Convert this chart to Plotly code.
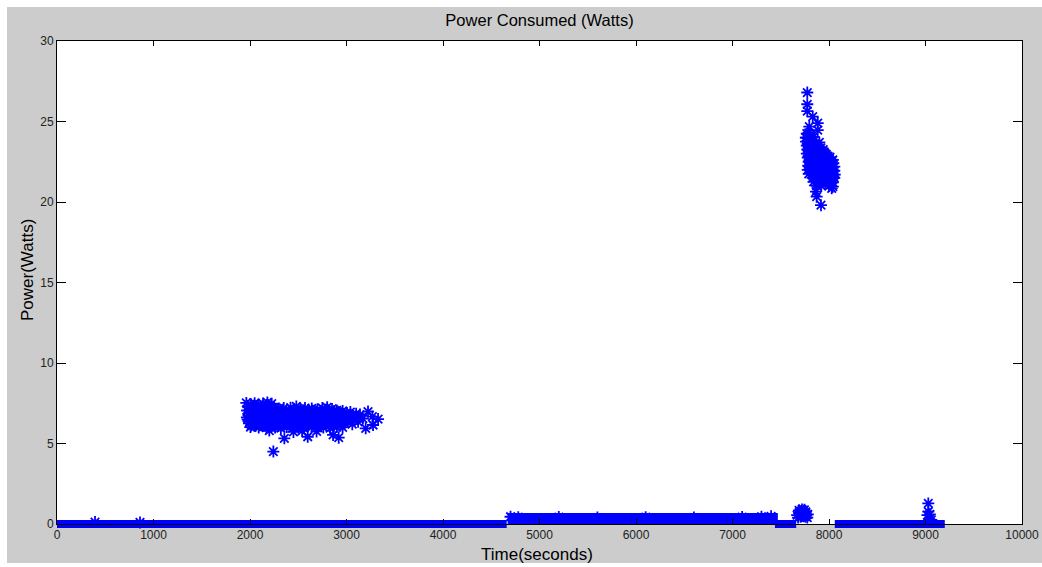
import plotly.graph_objects as go

# ---------------- data ----------------
x_ticks = [0, 1000, 2000, 3000, 4000, 5000, 6000, 7000, 8000, 9000, 10000]
y_ticks = [0, 5, 10, 15, 20, 25, 30]

# dense runs of samples that merge into solid bands (start time, end time, level)
band_x0 = [0, 4670, 7440, 8060]
band_x1 = [4660, 7470, 7660, 9200]
band_y = [0.0, 0.31, 0.0, 0.0]

# cluster around 2000-3300 s
cluster1 = [
    [1962, 7.52], [2005, 7.45], [2048, 7.5], [2090, 7.42], [2135, 7.48], [2180, 7.55], [2225, 7.47],
    [1980, 7.3], [2025, 7.28], [2070, 7.33], [2115, 7.25], [2160, 7.3], [2205, 7.32], [2250, 7.22],
    [2300, 7.18], [2350, 7.2], [2420, 7.22], [2480, 7.3], [2520, 7.15], [2570, 7.2], [2640, 7.18],
    [2700, 7.12], [2750, 7.2], [2800, 7.25], [2850, 7.15], [2900, 7.05],
    [1970, 7.05], [2015, 7.0], [2060, 6.98], [2105, 7.05], [2150, 7.0], [2195, 6.95], [2240, 7.02],
    [2285, 6.98], [2330, 7.05], [2375, 6.95], [2420, 7.0], [2465, 7.05], [2510, 6.97], [2555, 7.02],
    [2600, 6.96], [2645, 7.03], [2690, 6.98], [2735, 7.0], [2780, 7.05], [2825, 6.95], [2870, 7.0],
    [2915, 6.97], [2960, 7.02], [3005, 6.9],
    [1992, 6.88], [2038, 6.85], [2082, 6.9], [2128, 6.86], [2172, 6.88], [2218, 6.84], [2262, 6.9],
    [2308, 6.86], [2352, 6.88], [2398, 6.85], [2442, 6.9], [2488, 6.84], [2532, 6.88], [2578, 6.86],
    [2622, 6.9], [2668, 6.85], [2712, 6.88], [2758, 6.84], [2802, 6.9], [2848, 6.86], [2892, 6.88],
    [2938, 6.85], [2982, 6.82],
    [1985, 6.75], [2030, 6.72], [2075, 6.78], [2120, 6.7], [2165, 6.76], [2210, 6.73], [2255, 6.78],
    [2300, 6.7], [2345, 6.75], [2390, 6.72], [2435, 6.78], [2480, 6.7], [2525, 6.76], [2570, 6.73],
    [2615, 6.78], [2660, 6.7], [2705, 6.75], [2750, 6.72], [2795, 6.78], [2840, 6.7], [2885, 6.76],
    [2930, 6.73], [2975, 6.7], [3040, 6.75], [3090, 6.65],
    [1968, 6.62], [2012, 6.6], [2058, 6.64], [2102, 6.58], [2148, 6.62], [2192, 6.6], [2238, 6.64],
    [2282, 6.58], [2328, 6.62], [2372, 6.6], [2418, 6.64], [2462, 6.58], [2508, 6.62], [2552, 6.6],
    [2598, 6.64], [2642, 6.58], [2688, 6.62], [2732, 6.6], [2778, 6.64], [2822, 6.58], [2868, 6.62],
    [2912, 6.6], [2958, 6.62], [3002, 6.6],
    [1975, 6.5], [2020, 6.47], [2065, 6.53], [2110, 6.45], [2155, 6.5], [2200, 6.48], [2245, 6.52],
    [2290, 6.45], [2335, 6.5], [2380, 6.47], [2425, 6.53], [2470, 6.45], [2515, 6.5], [2560, 6.48],
    [2605, 6.52], [2650, 6.45], [2695, 6.5], [2740, 6.47], [2785, 6.53], [2830, 6.45], [2875, 6.5],
    [2920, 6.48], [2965, 6.52], [3010, 6.45], [3060, 6.55],
    [1998, 6.37], [2042, 6.35], [2088, 6.4], [2132, 6.36], [2178, 6.38], [2222, 6.35], [2268, 6.4],
    [2312, 6.36], [2358, 6.38], [2402, 6.35], [2448, 6.4], [2492, 6.36], [2538, 6.38], [2582, 6.35],
    [2628, 6.4], [2672, 6.36], [2718, 6.38], [2762, 6.35], [2808, 6.4], [2852, 6.36], [2898, 6.38],
    [2942, 6.35], [2988, 6.38],
    [1990, 6.25], [2035, 6.22], [2080, 6.28], [2125, 6.2], [2170, 6.25], [2215, 6.23], [2260, 6.27],
    [2305, 6.2], [2350, 6.25], [2395, 6.22], [2440, 6.28], [2485, 6.2], [2530, 6.25], [2575, 6.23],
    [2620, 6.27], [2665, 6.2], [2710, 6.25], [2755, 6.22], [2800, 6.28], [2845, 6.2], [2890, 6.25],
    [2935, 6.22], [2980, 6.25],
    [2012, 6.12], [2058, 6.1], [2102, 6.14], [2148, 6.1], [2238, 6.12], [2282, 6.1], [2328, 6.14],
    [2418, 6.1], [2462, 6.12], [2552, 6.1], [2598, 6.14], [2688, 6.1], [2732, 6.12], [2822, 6.1],
    [2868, 6.12],
    [2005, 6.02], [2090, 6.0], [2170, 5.98], [2260, 6.0], [2320, 5.95], [2380, 6.02], [2440, 5.97],
    [2500, 6.0], [2560, 5.95], [2640, 6.02], [2700, 5.98], [2760, 6.0], [2830, 5.95], [2900, 6.02],
    [2960, 6.0],
    [2242, 4.5], [2356, 5.32], [2598, 5.42], [2450, 5.72], [2690, 5.75], [2861, 5.53], [2919, 5.36],
    [2200, 5.8], [2540, 5.78],
    [3040, 6.95], [3100, 6.85], [3140, 6.8], [3120, 6.35], [3170, 6.55], [3223, 6.98], [3268, 6.67],
    [3327, 6.52], [3199, 5.94], [3275, 6.15], [3060, 6.2],
]

# cluster around 7750-8060 s
cluster2 = [
    [7775, 26.8], [7775, 26.07], [7775, 25.65], [7831, 25.3], [7883, 24.9], [7883, 24.47],
    [7796, 24.68], [7790, 24.3], [7765, 24.0],
    [7770, 24.25], [7810, 24.2],
    [7760, 24.0], [7800, 23.95], [7840, 24.05],
    [7762, 23.75], [7800, 23.7], [7840, 23.78], [7900, 23.7],
    [7780, 23.62], [7820, 23.6], [7860, 23.64],
    [7770, 23.5], [7810, 23.48], [7850, 23.52], [7890, 23.45],
    [7790, 23.37], [7830, 23.35], [7870, 23.4], [7915, 23.36],
    [7775, 23.25], [7815, 23.22], [7855, 23.28], [7895, 23.2], [7940, 23.25],
    [7790, 23.12], [7830, 23.1], [7870, 23.14], [7910, 23.1], [7950, 23.12],
    [7770, 23.0], [7810, 22.98], [7850, 23.02], [7890, 22.95], [7930, 23.0], [7970, 22.97],
    [7790, 22.87], [7830, 22.85], [7870, 22.9], [7910, 22.86], [7950, 22.88], [7990, 22.85],
    [7780, 22.75], [7820, 22.72], [7860, 22.78], [7900, 22.7], [7940, 22.75], [7980, 22.73], [8010, 22.78],
    [7800, 22.62], [7840, 22.6], [7880, 22.64], [7920, 22.6], [7960, 22.62], [8000, 22.6], [8040, 22.62],
    [7790, 22.5], [7830, 22.48], [7870, 22.52], [7910, 22.45], [7950, 22.5], [7990, 22.48], [8030, 22.52],
    [7805, 22.37], [7845, 22.35], [7885, 22.4], [7925, 22.36], [7965, 22.38], [8005, 22.35], [8045, 22.4],
    [7785, 22.25], [7825, 22.22], [7865, 22.28], [7905, 22.2], [7945, 22.25], [7985, 22.23], [8025, 22.27], [8055, 22.2],
    [7800, 22.12], [7840, 22.1], [7880, 22.14], [7920, 22.1], [7960, 22.12], [8000, 22.1], [8040, 22.14],
    [7780, 22.0], [7820, 21.98], [7860, 22.02], [7900, 21.95], [7940, 22.0], [7980, 21.97], [8020, 22.02], [8055, 21.95],
    [7810, 21.87], [7850, 21.85], [7890, 21.9], [7930, 21.86], [7970, 21.88], [8010, 21.85], [8045, 21.9],
    [7790, 21.75], [7830, 21.72], [7870, 21.78], [7910, 21.7], [7950, 21.75], [7990, 21.72], [8030, 21.78], [8060, 21.7],
    [7850, 21.62], [7890, 21.6], [7930, 21.64], [7970, 21.6], [8010, 21.62], [8045, 21.6],
    [7830, 21.5], [7870, 21.48], [7910, 21.52], [7950, 21.45], [7990, 21.5], [8030, 21.48], [8055, 21.5],
    [7860, 21.37], [7900, 21.35], [7980, 21.36], [8020, 21.38],
    [7840, 21.25], [7880, 21.22], [7920, 21.28], [7960, 21.2], [8000, 21.25], [8040, 21.22],
    [7872, 21.0], [7920, 21.0], [8000, 21.0], [8040, 20.95], [8028, 20.85],
    [7865, 20.64], [7872, 20.33], [7917, 19.8],
]

# small bumps near the baseline
small_points = [
    [394, 0.12], [860, 0.1],
    [4700, 0.45], [4780, 0.42], [5200, 0.43], [5600, 0.4], [6100, 0.42], [6600, 0.4],
    [7100, 0.43], [7300, 0.45], [7400, 0.48],
    [7670, 0.55], [7690, 0.7], [7710, 0.78], [7735, 0.8], [7760, 0.75], [7780, 0.6],
    [7680, 0.4], [7705, 0.45], [7730, 0.5], [7755, 0.45], [7775, 0.4], [7700, 0.6],
    [7725, 0.65], [7750, 0.6], [7690, 0.85], [7720, 0.9], [7745, 0.88], [7765, 0.55],
    [9029, 1.28], [9029, 0.77], [9045, 0.6], [9020, 0.55], [9040, 0.3], [9060, 0.25],
]

# ---------------- layout geometry (pixels) ----------------
W, H = 1042, 567
L, R, T, B = 57, 1022, 41, 524
PAD = 12
BLUE = "#0000ff"
FONT = "Liberation Sans, Arial, sans-serif"
band_w = [8, 12, 8, 8]

ux = 10000 / (R - L)
uy = 30 / (B - T)

fig = go.Figure()

for x0, x1, y, w in zip(band_x0, band_x1, band_y, band_w):
    fig.add_trace(go.Scatter(x=[x0, x1], y=[y, y], mode="lines",
                             line=dict(color=BLUE, width=w),
                             xaxis="x", yaxis="y", hoverinfo="skip", showlegend=False))

pts = cluster1 + cluster2 + small_points
fig.add_trace(go.Scatter(
    x=[p[0] for p in pts], y=[p[1] for p in pts], mode="markers",
    marker=dict(symbol="asterisk-open", size=10, color=BLUE, line=dict(width=1.8, color=BLUE)),
    xaxis="x", yaxis="y", cliponaxis=False, showlegend=False, hoverinfo="skip"))

# empty trace to realise the framed axes
fig.add_trace(go.Scatter(x=[], y=[], xaxis="x2", yaxis="y2", showlegend=False))

axis_common = dict(showgrid=False, zeroline=False, showline=True, linecolor="black", linewidth=1,
                   ticks="inside", mirror="ticks", tickcolor="black", tickwidth=1,
                   tickfont=dict(family=FONT, size=12, color="#222222"))

fig.update_layout(
    width=W, height=H, autosize=False, template="none",
    margin=dict(l=0, r=0, t=0, b=0, pad=0),
    paper_bgcolor="white", plot_bgcolor="rgba(0,0,0,0)",
    showlegend=False,
    xaxis=dict(domain=[(L - PAD) / W, (R + PAD) / W], range=[-PAD * ux, 10000 + PAD * ux],
               visible=False, anchor="y", fixedrange=True),
    yaxis=dict(domain=[1 - (B + PAD) / H, 1 - (T - PAD) / H], range=[-PAD * uy, 30 + PAD * uy],
               visible=False, anchor="x", fixedrange=True),
    xaxis2=dict(domain=[L / W, R / W], range=[0, 10000], anchor="y2", tickvals=x_ticks,
                ticktext=[str(v) for v in x_ticks], ticklen=5, **axis_common),
    yaxis2=dict(domain=[1 - B / H, 1 - T / H], range=[0, 30], anchor="x2", tickvals=y_ticks,
                ticktext=[str(v) for v in y_ticks], ticklen=9, **axis_common),
    title=dict(text="Power Consumed (Watts)", x=(L + R) / 2 / W, xanchor="center",
               y=1 - 20 / H, yanchor="middle", font=dict(family=FONT, size=16.5, color="black")),
    shapes=[
        dict(type="rect", xref="paper", yref="paper", x0=7 / W, x1=1.01, y0=(H - 563) / H, y1=(H - 7) / H,
             fillcolor="#cccccc", line=dict(width=0), layer="below"),
        dict(type="rect", xref="x2 domain", yref="y2 domain", x0=0, x1=1, y0=0, y1=1,
             fillcolor="white", line=dict(width=0), layer="below"),
    ],
    annotations=[
        dict(text="Time(seconds)", xref="paper", yref="paper", x=537 / W, y=1 - 554 / H,
             xanchor="center", yanchor="middle", showarrow=False,
             font=dict(family=FONT, size=17, color="black")),
        dict(text="Power(Watts)", xref="paper", yref="paper", x=27 / W, y=1 - 270 / H,
             xanchor="center", yanchor="middle", showarrow=False, textangle=-90,
             font=dict(family=FONT, size=17, color="black")),
    ],
)

fig.write_html("out.html")
